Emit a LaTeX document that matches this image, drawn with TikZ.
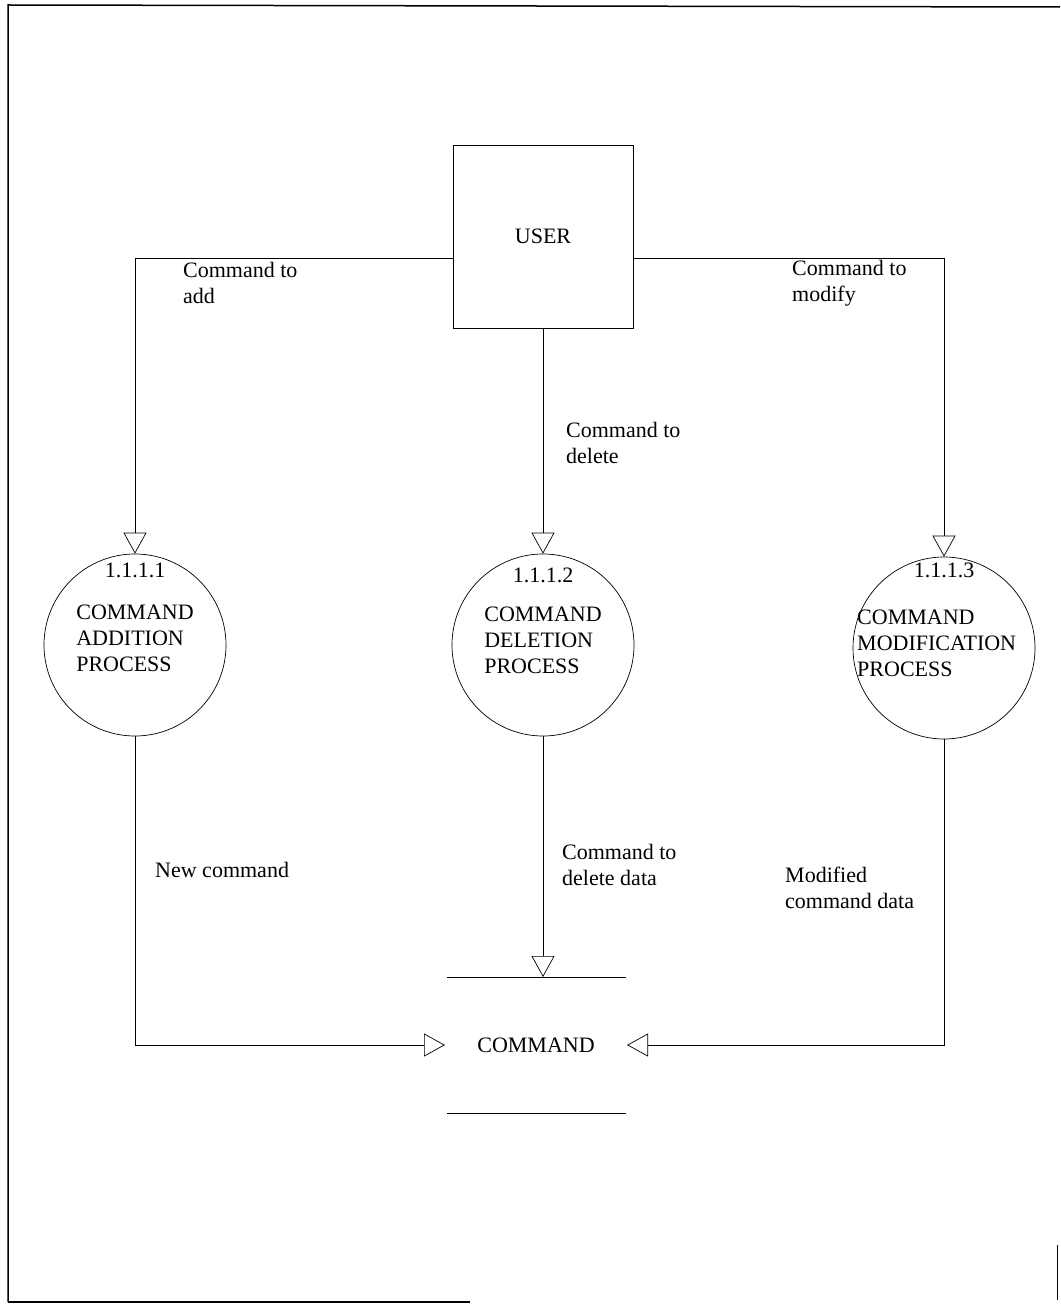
\documentclass[tikz,border=0pt]{standalone}
\usepackage{fontspec}
\setmainfont{Liberation Serif}
\usetikzlibrary{arrows.meta}

\tikzset{
  flow/.style={line width=0.7pt, -{Triangle[open, length=21pt, width=23pt]}},
  proc/.style={draw, circle, minimum size=182pt, inner sep=0pt, line width=0.7pt},
  lbl/.style={anchor=west, align=left, inner sep=0pt},
}

\begin{document}
\begin{tikzpicture}[x=1pt, y=-1pt, font=\fontsize{22}{26}\selectfont]
\useasboundingbox (0,0) rectangle (1060,1305);

% page frame
\draw[line width=1.5pt] (8,1302) -- (8,5) -- (1060,7);
\draw[line width=1.5pt] (8,1302) -- (470,1302);
\draw[line width=1pt] (1057,1245) -- (1057,1300);

% user
\node[draw, line width=0.7pt, minimum width=180pt, minimum height=183pt] (user) at (543,236.5) {USER};

% processes
\node[proc] (p1) at (135,645) {};
\node (n1) at (135,570) {1.1.1.1};
\node[align=left] (t1) at (135,638) {COMMAND\\ADDITION\\PROCESS};

\node[proc] (p2) at (543,645) {};
\node (n2) at (543,575) {1.1.1.2};
\node[align=left] (t2) at (543,640) {COMMAND\\DELETION\\PROCESS};

\node[proc] (p3) at (944,648) {};
\node (n3) at (944,570) {1.1.1.3};
\node[lbl] (t3) at (857,643) {COMMAND\\MODIFICATION\\PROCESS};

% data store
\node (store) at (536,1045) {COMMAND};
\draw[line width=0.7pt] (447,977) -- (626,977);
\draw[line width=0.7pt] (447,1113) -- (626,1113);
\coordinate (inL) at (445,1045);
\coordinate (inR) at (627,1045);
\coordinate (inT) at (543,977);

% flows
\draw[flow] ([yshift=-21.5pt]user.west) -| (p1.north);
\draw[flow] (user.south) -- (p2.north);
\draw[flow] ([yshift=-21.5pt]user.east) -| (p3.north);
\draw[flow] (p1.south) |- (inL);
\draw[flow] (p2.south) -- (inT);
\draw[flow] (p3.south) |- (inR);

% flow labels
\node[lbl] (l-add) at (183,283) {Command to\\add};
\node[lbl] (l-mod) at (792,283) {Command to\\modify};
\node[lbl] (l-del) at (566,443) {Command to\\delete};
\node[lbl] (l-new) at (155,870) {New command};
\node[lbl] (l-deldata) at (562,865) {Command to\\delete data};
\node[lbl] (l-moddata) at (785,888) {Modified\\command data};
\end{tikzpicture}
\end{document}
